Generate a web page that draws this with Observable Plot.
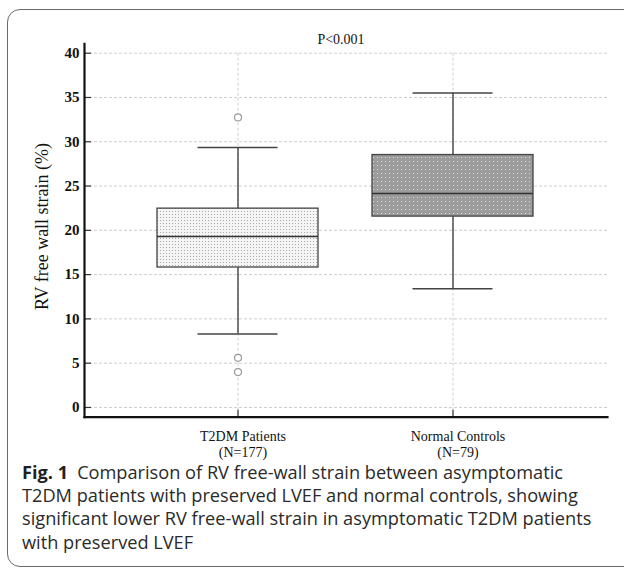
<!DOCTYPE html>
<html><head><meta charset="utf-8">
<script src="https://cdn.jsdelivr.net/npm/d3@7"></script>
<script src="https://cdn.jsdelivr.net/npm/@observablehq/plot@0.6"></script>
<style>
body{margin:0;background:#fff;width:624px;height:580px;overflow:hidden;position:relative;font-family:"Liberation Serif",serif}
#frame{position:absolute;left:7px;top:9px;width:640px;height:558px;border:1.5px solid #6a6a6a;border-radius:13px;box-sizing:border-box}
#chart{position:absolute;left:0;top:0}
#caption{position:absolute;left:22px;top:461px;font-family:"Open Sans",sans-serif;font-size:18.2px;line-height:23.2px;color:#2a2a2a;white-space:nowrap}
#caption b{font-weight:700;margin-right:9px;color:#231f20}
</style></head><body>
<div id="frame"></div>
<div id="chart"></div>
<div id="caption"></div>
<script>
// ---- data ----
const groups = ["T2DM Patients\n(N=177)", "Normal Controls\n(N=79)"];
const q1 = [15.8, 21.55];
const median = [19.3, 24.15];
const q3 = [22.45, 28.5];
const whiskerLow = [8.3, 13.4];
const whiskerHigh = [29.35, 35.5];
const outlierGroup = [groups[0], groups[0], groups[0]];
const outlierValue = [32.75, 5.6, 4.0];
const yTicks = [0, 5, 10, 15, 20, 25, 30, 35, 40];
const pLabel = "P<0.001";
const yLabel = "RV free wall strain (%)";
const captionBold = "Fig. 1";
const captionLines = [
  "Comparison of RV free-wall strain between asymptomatic",
  "T2DM patients with preserved LVEF and normal controls, showing",
  "significant lower RV free-wall strain in asymptomatic T2DM patients",
  "with preserved LVEF"
];
const fills = ["url(#dotsLight)", "url(#dotsDark)"];

const idx = groups.map((_, i) => i);
const yDomain = [-1.1, 41.06];

const svg = Plot.plot({
  width: 624,
  height: 460,
  marginLeft: 84,
  marginRight: 17,
  marginTop: 43.3,
  marginBottom: 43.3,
  style: {fontFamily: "'Liberation Serif', 'Times New Roman', serif", color: "#111", background: "transparent"},
  x: {type: "band", domain: groups, paddingInner: 0.251, paddingOuter: 0.3385, label: null},
  y: {domain: yDomain, label: null},
  color: {type: "identity"},
  marks: [
    Plot.ruleY(yTicks, {stroke: "#cfcfcf", strokeDasharray: "3,2", strokeWidth: 1}),
    Plot.ruleX(groups, {x: d => d, y1: 40, y2: yDomain[0], stroke: "#cfcfcf", strokeDasharray: "3,2", strokeWidth: 1}),
    Plot.ruleX(idx, {x: i => groups[i], y1: i => whiskerLow[i], y2: i => whiskerHigh[i], stroke: "#444", strokeWidth: 1.4}),
    Plot.tickY(idx, {x: i => groups[i], y: i => whiskerHigh[i], insetLeft: 40.5, insetRight: 40.5, stroke: "#444", strokeWidth: 1.4}),
    Plot.tickY(idx, {x: i => groups[i], y: i => whiskerLow[i], insetLeft: 40.5, insetRight: 40.5, stroke: "#444", strokeWidth: 1.4}),
    Plot.barY(idx, {x: i => groups[i], y1: i => q1[i], y2: i => q3[i], fill: i => fills[i], stroke: "#444", strokeWidth: 1.3}),
    Plot.tickY(idx, {x: i => groups[i], y: i => median[i], stroke: "#333", strokeWidth: 1.4}),
    Plot.dot(outlierValue, {x: (d, i) => outlierGroup[i], y: d => d, r: 3.5, stroke: "#9a9a9a", fill: "white", strokeWidth: 1.2}),
    Plot.axisY({ticks: yTicks, tickSize: 0, tickPadding: 5, fontSize: 15, fontWeight: "bold", label: null}),
    Plot.axisY({ticks: yTicks, tickSize: 7, dx: 7, tickFormat: () => "", label: null, stroke: "#333", strokeWidth: 1.2}),
    Plot.axisX({tickSize: 0, tickPadding: 12, fontSize: 14, lineHeight: 1.18, dx: 5, label: null}),
    Plot.axisX({tickSize: 7, dy: -7, tickFormat: () => "", label: null, stroke: "#333", strokeWidth: 1.2}),
    Plot.frame({anchor: "left", stroke: "#111", strokeWidth: 2.2}),
    Plot.frame({anchor: "bottom", stroke: "#111", strokeWidth: 2.2}),
    Plot.text([pLabel], {frameAnchor: "top", dy: -10, dx: -5, fontSize: 14}),
    Plot.text([yLabel], {frameAnchor: "left", textAnchor: "middle", rotate: -90, dx: -42, dy: -4, fontSize: 18})
  ]
});

const ns = "http://www.w3.org/2000/svg";
const defs = document.createElementNS(ns, "defs");
defs.innerHTML = `
<pattern id="dotsLight" patternUnits="userSpaceOnUse" width="3" height="3">
  <rect width="3" height="3" fill="#f5f5f5"/>
  <rect x="1" y="1" width="1" height="1" fill="#a8a8a8"/>
</pattern>
<pattern id="dotsDark" patternUnits="userSpaceOnUse" width="4" height="4">
  <rect width="4" height="4" fill="#9c9c9c"/>
  <rect x="1" y="1" width="1" height="1" fill="#e0e0e0"/>
</pattern>`;
svg.insertBefore(defs, svg.firstChild);
document.getElementById("chart").appendChild(svg);

const cap = document.getElementById("caption");
cap.innerHTML = `<b>${captionBold}</b>` + captionLines.join("<br>");
</script>
</body></html>
